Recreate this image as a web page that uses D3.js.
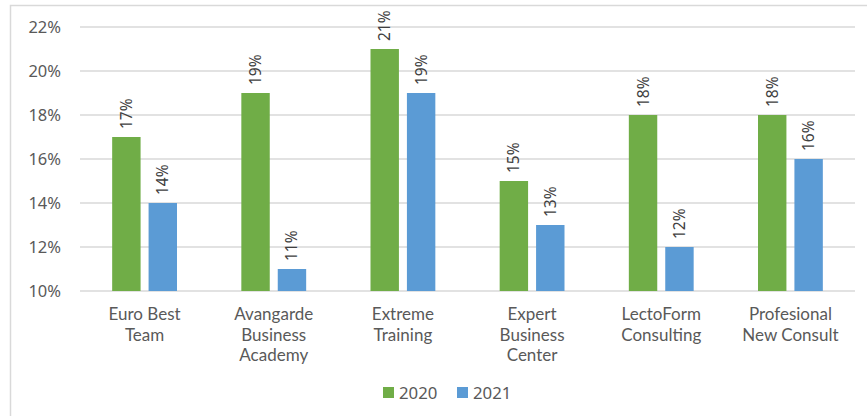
<!DOCTYPE html>
<html><head><meta charset="utf-8">
<script src="https://cdn.jsdelivr.net/npm/d3@7"></script>
<style>body{margin:0;background:#fff;}svg{display:block;}</style>
</head><body>
<svg id="c" width="867" height="416"></svg>
<script>
const categories = [["Euro Best","Team"],["Avangarde","Business","Academy"],["Extreme","Training"],["Expert","Business","Center"],["LectoForm","Consulting"],["Profesional","New Consult"]];
const series2020 = [17,19,21,15,18,18];
const series2021 = [14,11,19,13,12,16];
const seriesNames = ["2020","2021"];
const yTicks = [10,12,14,16,18,20,22];
const colors = ["#70AD47","#5B9BD5"];

(function(){
const svg = d3.select("#c");
const font = "'Noto Sans', 'Open Sans', sans-serif";
const catFont = "Lato, 'Noto Sans', sans-serif";
const pLeft = 80, pRight = 855, pTop = 27, pBottom = 291;

svg.append("rect").attr("x",10.5).attr("y",5.5).attr("width",880).attr("height",430)
  .attr("fill","#fff").attr("stroke","#D9D9D9").attr("stroke-width",1.5);

const y = d3.scaleLinear().domain([10,22]).range([pBottom, pTop]);
const x0 = d3.scaleBand().domain(d3.range(categories.length)).range([pLeft,pRight]).paddingInner(0).paddingOuter(0);
const bw = x0.bandwidth();
const barW = bw*0.22, gap = 8;

const grid = svg.append("g");
grid.selectAll("line").data(yTicks).join("line")
  .attr("x1",pLeft).attr("x2",pRight).attr("y1",d=>y(d)).attr("y2",d=>y(d))
  .attr("stroke","#D9D9D9").attr("stroke-width",1.5);

const yAxis = d3.axisLeft(y).tickValues(yTicks).tickFormat(d=>d+"%").tickSize(0).tickPadding(19);
const ya = svg.append("g").attr("transform",`translate(${pLeft},0)`).call(yAxis);
ya.select(".domain").remove();
ya.selectAll("text").attr("font-family",font).attr("font-size",16.5).attr("fill","#595959");

const data = [series2020, series2021];
data.forEach((vals,si)=>{
  const g = svg.append("g");
  const offset = si===0 ? -gap/2-barW : gap/2;
  g.selectAll("rect").data(vals).join("rect")
    .attr("x",(d,i)=>x0(i)+bw/2+offset)
    .attr("width",barW)
    .attr("y",d=>y(d)).attr("height",d=>pBottom-y(d))
    .attr("fill",colors[si]);
  g.selectAll("text").data(vals).join("text")
    .attr("transform",(d,i)=>`translate(${x0(i)+bw/2+offset+barW/2+5.5},${y(d)-8}) rotate(-90)`)
    .attr("font-family",font).attr("font-size",15.5).attr("fill","#404040")
    .text(d=>d+"%");
});

const cl = svg.append("g");
categories.forEach((lines,i)=>{
  lines.forEach((ln,k)=>{
    cl.append("text").attr("text-anchor","middle").attr("font-family",catFont)
      .attr("font-size",17).attr("fill","#595959")
      .attr("x",x0(i)+bw/2).attr("y",320+k*20.6).text(ln);
  });
});

const legX = [383,457];
seriesNames.forEach((n,i)=>{
  svg.append("rect").attr("x",legX[i]).attr("y",387).attr("width",11).attr("height",11).attr("fill",colors[i]);
  svg.append("text").attr("x",legX[i]+16).attr("y",398.5).attr("font-family",font).attr("font-size",16.8)
    .attr("fill","#595959").text(n);
});
})();
</script>
</body></html>
